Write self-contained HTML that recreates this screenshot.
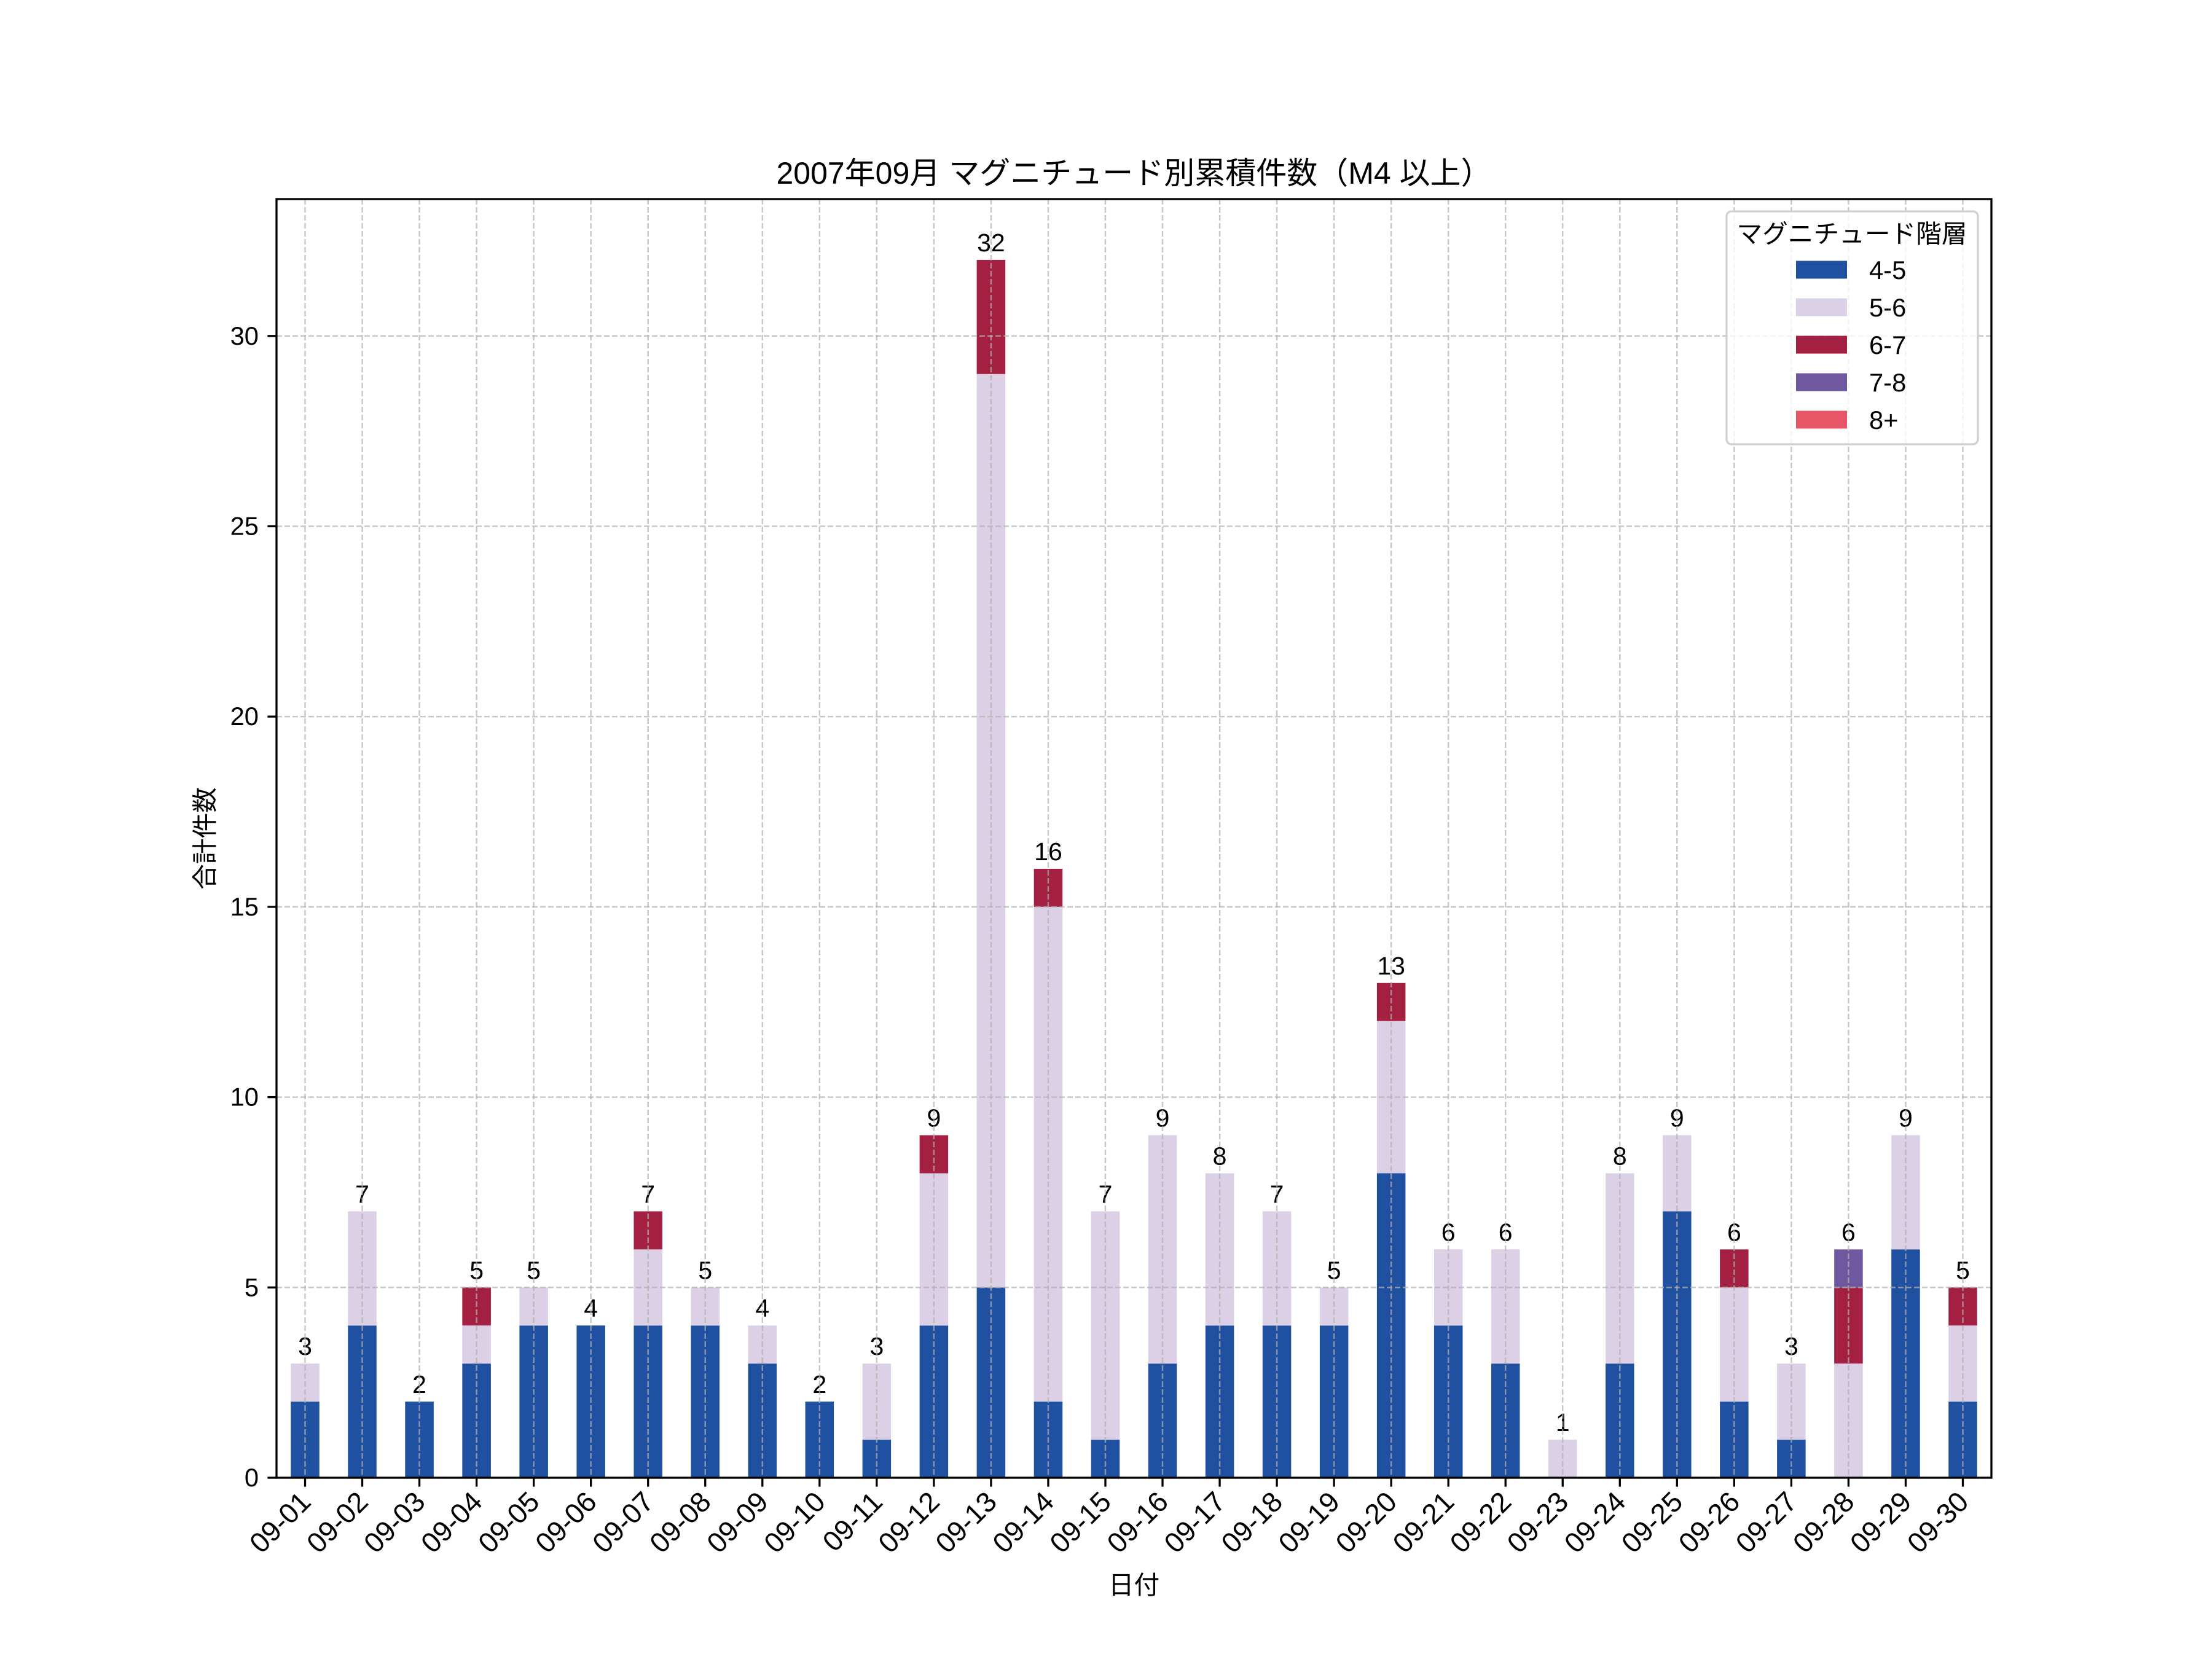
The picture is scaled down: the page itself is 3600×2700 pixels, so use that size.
<!DOCTYPE html>
<html><head><meta charset="utf-8"><style>html,body{margin:0;padding:0;background:#fff}svg{display:block}text{font-family:"Liberation Sans","Noto Sans CJK JP",sans-serif;fill:#000}</style></head>
<body>
<svg id="s" width="3600" height="2700" xmlns="http://www.w3.org/2000/svg"></svg>
<script>
const NS="http://www.w3.org/2000/svg",s=document.getElementById('s');
function el(t,a,txt){const e=document.createElementNS(NS,t);for(const k in a)e.setAttribute(k,a[k]);if(txt!=null)e.textContent=txt;s.appendChild(e);return e;}
const L=450,R=3241,T=324,B=2405,U=(R-L)/30,Y=61.94;
const cols=['#2050a0','#dcd0e6','#a32042','#7058a0','#e85566'];
const d=[[2,1],[4,3],[2],[3,1,1],[4,1],[4],[4,2,1],[4,1],[3,1],[2],[1,2],[4,4,1],[5,24,3],[2,13,1],[1,6],[3,6],[4,4],[4,3],[4,1],[8,4,1],[4,2],[3,3],[0,1],[3,5],[7,2],[2,3,1],[1,2],[0,3,2,1],[6,3],[2,2,1]];
el('rect',{x:0,y:0,width:3600,height:2700,fill:'#fff'});
d.forEach((v,i)=>{const cx=L+U*(i+0.5);let c=0;v.forEach((n,j)=>{if(n>0)el('rect',{x:cx-U/4,y:B-(c+n)*Y,width:U/2,height:n*Y,fill:cols[j]});c+=n;});
el('text',{x:cx,y:B-c*Y-14,'font-size':41,'text-anchor':'middle'},c);});
for(let i=0;i<30;i++){const x=L+U*(i+0.5);el('line',{x1:x,y1:T,x2:x,y2:B,stroke:'#b0b0b0','stroke-opacity':0.7,'stroke-width':2.5,'stroke-dasharray':'9,4'});}
for(let v=0;v<=30;v+=5){const y=B-v*Y;el('line',{x1:L,y1:y,x2:R,y2:y,stroke:'#b0b0b0','stroke-opacity':0.7,'stroke-width':2.5,'stroke-dasharray':'9,4'});
el('line',{x1:L-14.6,y1:y,x2:L,y2:y,stroke:'#000','stroke-width':3.3});
el('text',{x:L-29,y:y+14,'font-size':41.7,'text-anchor':'end'},v);}
for(let i=0;i<30;i++){const x=L+U*(i+0.5);el('line',{x1:x,y1:B,x2:x,y2:B+14.6,stroke:'#000','stroke-width':3.3});
const lab='09-'+String(i+1).padStart(2,'0');el('text',{x:x+12,y:B+42,'font-size':46,'text-anchor':'end',transform:`rotate(-45 ${x+12} ${B+42})`},lab);}
el('rect',{x:L,y:T,width:R-L,height:B-T,fill:'none',stroke:'#000','stroke-width':3.3});
el('text',{x:(L+R)/2,y:299,'font-size':50,'text-anchor':'middle'},'2007年09月 マグニチュード別累積件数（M4 以上）');
el('text',{x:(L+R)/2,y:2594,'font-size':41.7,'text-anchor':'middle'},'日付');
el('text',{x:348,y:(T+B)/2,'font-size':41.7,'text-anchor':'middle',transform:`rotate(-90 348 ${(T+B)/2})`},'合計件数');
el('rect',{x:2810,y:344,width:409,height:379,rx:8,fill:'#fff','fill-opacity':0.8,stroke:'#d0d0d0','stroke-width':3.3});
el('text',{x:3014,y:395,'font-size':41.7,'text-anchor':'middle'},'マグニチュード階層');
['4-5','5-6','6-7','7-8','8+'].forEach((t,i)=>{const cy=439+i*61;el('rect',{x:2923,y:cy-14.5,width:83,height:29,fill:cols[i]});el('text',{x:3042,y:cy+15,'font-size':41.7},t);});
</script>
</body></html>
